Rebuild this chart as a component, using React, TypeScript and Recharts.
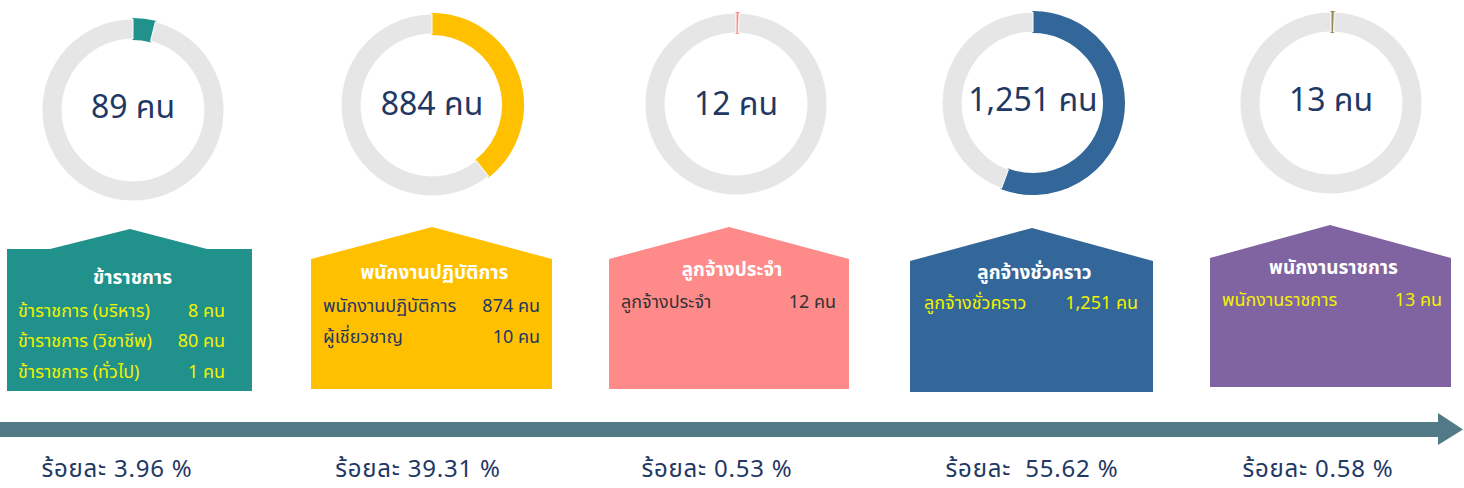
import React from 'react';
import { PieChart, Pie, Cell, Customized } from 'recharts';

// ---- data ----
const categories = ['ข้าราชการ', 'พนักงานปฏิบัติการ', 'ลูกจ้างประจำ', 'ลูกจ้างชั่วคราว', 'พนักงานราชการ'];
const counts = [89, 884, 12, 1251, 13];
const centerLabels = ['89 คน', '884 คน', '12 คน', '1,251 คน', '13 คน'];
const percentLabels = ['ร้อยละ 3.96 %', 'ร้อยละ 39.31 %', 'ร้อยละ 0.53 %', 'ร้อยละ  55.62 %', 'ร้อยละ 0.58 %'];
const subRowNames = [
  ['ข้าราชการ (บริหาร)', 'ข้าราชการ (วิชาชีพ)', 'ข้าราชการ (ทั่วไป)'],
  ['พนักงานปฏิบัติการ', 'ผู้เชี่ยวชาญ'],
  ['ลูกจ้างประจำ'],
  ['ลูกจ้างชั่วคราว'],
  ['พนักงานราชการ'],
];
const subRowValues = [
  ['8 คน', '80 คน', '1 คน'],
  ['874 คน', '10 คน'],
  ['12 คน'],
  ['1,251 คน'],
  ['13 คน'],
];

const total = counts.reduce((a, b) => a + b, 0);

// ---- styles / layout ----
const W = 1464;
const H = 488;
const FONT = "Tahoma, 'Noto Sans Thai', 'Noto Sans Thai Looped', 'Loma', 'Garuda', 'Norasi', 'DejaVu Sans', sans-serif";
const seriesColors = ['#21918C', '#FFC000', '#FF8A8A', '#336699', '#948A54'];
const houseColors = ['#21918C', '#FFC000', '#FF8A8A', '#336699', '#8064A2'];
const rowColors = ['#F2F200', '#1F3864', '#333333', '#F2F200', '#F2F200'];
const REST = '#E6E6E6';
const NAVY = '#1F3864';
const ARROW = '#527A86';

const donutLayout = [
  { cx: 133, cy: 110, ty: 108 },
  { cx: 432, cy: 105, ty: 105 },
  { cx: 736, cy: 104, ty: 105 },
  { cx: 1033, cy: 103, ty: 101 },
  { cx: 1331, cy: 103, ty: 101 },
];
const houseLayout = [
  { l: 7, r: 252, top: 249, bottom: 391, peakX: 130, peakY: 229, roofL: 50, roofR: 207, titleY: 284, rowY: [317, 347, 378], rowL: 18, rowR: 225 },
  { l: 311, r: 552, top: 259, bottom: 389, peakX: 432, peakY: 227, roofL: 311, roofR: 552, titleY: 279, rowY: [312, 343], rowL: 323, rowR: 540 },
  { l: 609, r: 849, top: 259, bottom: 389, peakX: 729, peakY: 227, roofL: 609, roofR: 849, titleY: 276, rowY: [308], rowL: 621, rowR: 836 },
  { l: 910, r: 1153, top: 261, bottom: 392, peakX: 1032, peakY: 228, roofL: 910, roofR: 1153, titleY: 279, rowY: [309], rowL: 924, rowR: 1138 },
  { l: 1210, r: 1451, top: 258, bottom: 387, peakX: 1330, peakY: 225, roofL: 1210, roofR: 1451, titleY: 274, rowY: [306], rowL: 1222, rowR: 1442 },
];
const percentLayout = [117, 418, 717, 1032, 1318];

const Decorations = () => (
  <g>
    {donutLayout.map((d, i) => (
      <text key={`c-${i}`} x={d.cx} y={d.ty} textAnchor="middle" dominantBaseline="central" fill={NAVY} fontFamily={FONT} fontSize={32}>
        {centerLabels[i]}
      </text>
    ))}
    {houseLayout.map((h, i) => {
      const pts = [
        [h.l, h.top], [h.roofL, h.top], [h.peakX, h.peakY], [h.roofR, h.top], [h.r, h.top],
        [h.r, h.bottom], [h.l, h.bottom],
      ].map((p) => p.join(',')).join(' ');
      return (
        <g key={`house-${i}`}>
          <polygon points={pts} fill={houseColors[i]} />
          <text x={(h.l + h.r) / 2 + 3} y={h.titleY} textAnchor="middle" fill="#FFFFFF" fontFamily={FONT} fontSize={19} fontWeight="bold">
            {categories[i]}
          </text>
          {subRowNames[i].map((name, j) => (
            <g key={`row-${i}-${j}`}>
              <text x={h.rowL} y={h.rowY[j]} textAnchor="start" fill={rowColors[i]} fontFamily={FONT} fontSize={18}>
                {name}
              </text>
              <text x={h.rowR} y={h.rowY[j]} textAnchor="end" fill={rowColors[i]} fontFamily={FONT} fontSize={18}>
                {subRowValues[i][j]}
              </text>
            </g>
          ))}
        </g>
      );
    })}
    <rect x={0} y={422} width={1440} height={15} fill={ARROW} />
    <polygon points="1438,413 1463,429.5 1438,445" fill={ARROW} />
    {percentLabels.map((p, i) => (
      <text key={`pct-${i}`} x={percentLayout[i]} y={477} textAnchor="middle" fill={NAVY} fontFamily={FONT} fontSize={24} letterSpacing={0.8} style={{ whiteSpace: 'pre' }}>
        {p}
      </text>
    ))}
  </g>
);

export default function App() {
  return (
    <div style={{ position: 'absolute', left: 0, top: 0, width: W, height: H, background: '#FFFFFF' }}>
      <PieChart width={W} height={H} margin={{ top: 0, right: 0, bottom: 0, left: 0 }}>
        {counts.map((c, i) => (
          <Pie
            key={`pie-${i}`}
            data={[{ name: categories[i], value: c }, { name: 'อื่น ๆ', value: total - c }]}
            dataKey="value"
            cx={donutLayout[i].cx}
            cy={donutLayout[i].cy}
            innerRadius={71}
            outerRadius={91}
            startAngle={90}
            endAngle={-270}
            isAnimationActive={false}
          >
            <Cell fill={seriesColors[i]} stroke={seriesColors[i]} strokeWidth={2} />
            <Cell fill={REST} stroke="#FFFFFF" strokeWidth={1} />
          </Pie>
        ))}
        <Customized component={Decorations} />
      </PieChart>
    </div>
  );
}
